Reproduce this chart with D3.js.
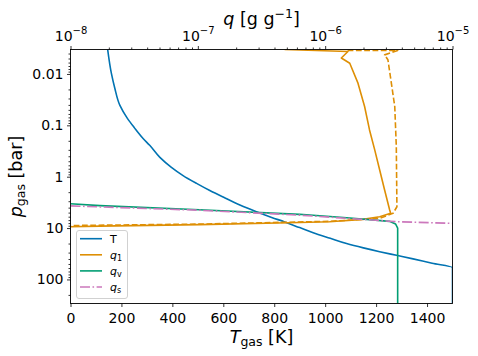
<!DOCTYPE html>
<html lang="en">
<head>
  <meta charset="UTF-8">
  <title>Gas profile</title>
  <script src="https://d3js.org/d3.v7.min.js"></script>
  <style>
    body { margin: 0; background: #fff; }
    text { font-family: "DejaVu Sans", sans-serif; fill: #000; }
  </style>
</head>
<body>
<script>
  // temperature profile [T in K, p in bar]
  const tempProfile = [
    [146, 0.00334], [161, 0.01], [174, 0.019], [194, 0.041], [224, 0.074],
    [250, 0.11], [285, 0.18], [311, 0.245], [351, 0.42], [395, 0.65],
    [442, 0.95], [495, 1.35], [547, 1.86], [605, 2.57], [665, 3.55],
    [730, 4.8], [790, 6.2], [841, 7.6], [900, 9.8], [953, 12.3],
    [1020, 15.8], [1084, 20], [1150, 24.3], [1214, 28.8], [1280, 33.9],
    [1345, 39.8], [1420, 48.4], [1500, 58.9], [1500, 294]
  ];
  // q_1 [q in g/g, p in bar]
  const q1Solid = [
    [4.8e-7, 0.00335], [1.51e-6, 0.00366], [1.34e-6, 0.0049], [1.56e-6, 0.0062],
    [1.81e-6, 0.0151], [2.04e-6, 0.043], [2.23e-6, 0.123], [2.45e-6, 0.30],
    [2.68e-6, 0.74], [2.93e-6, 1.82], [3.21e-6, 4.45], [3.27e-6, 5.17],
    [2.68e-6, 6.0], [1.98e-6, 6.77], [1.08e-6, 7.54], [6.3e-7, 7.8],
    [1.03e-7, 8.55], [1.7e-8, 9.15], [1e-8, 9.4]
  ];
  // second q_1 run (dashed, no legend entry)
  const q1Dashed = [
    [1.5e-6, 0.0035], [3.71e-6, 0.0035], [2.93e-6, 0.00425], [3.11e-6, 0.0053],
    [3.31e-6, 0.015], [3.52e-6, 0.043], [3.62e-6, 0.26], [3.66e-6, 3.85],
    [3.41e-6, 5.17], [2.68e-6, 6.47], [1.08e-6, 7.4], [1.03e-7, 8.36],
    [1e-8, 8.93]
  ];
  // q_v
  const qvProfile = [
    [1e-8, 3.36], [1.7e-8, 3.65], [1.03e-7, 4.4], [6.3e-7, 5.4], [1.48e-6, 6.3],
    [3.2e-6, 7.4], [3.57e-6, 8.3], [3.71e-6, 10], [3.71e-6, 294]
  ];
  // q_s
  const qsProfile = [
    [1e-8, 3.7], [1.03e-7, 4.5], [6.3e-7, 5.6], [3.6e-6, 7.5], [1e-5, 8.1]
  ];

  const tTicks = [0, 200, 400, 600, 800, 1000, 1200, 1400];
  const pTicks = [0.01, 0.1, 1, 10, 100];
  const pTickLabels = ["0.01", "0.1", "1", "10", "100"];
  const qTicks = [1e-8, 1e-7, 1e-6, 1e-5];
  const qTickExp = ["\u22128", "\u22127", "\u22126", "\u22125"];

  const legendItems = [
    { name: "T", sub: null, color: "#0173b2", dash: null },
    { name: "q", sub: "1", color: "#de8f05", dash: null },
    { name: "q", sub: "v", color: "#029e73", dash: null },
    { name: "q", sub: "s", color: "#cc78bc", dash: "10,2.5,1.6,2.5" }
  ];

  const W = 478, H = 356;
  const L = 70.5, R = 452.5, T = 49.5, B = 303.5;

  const svg = d3.select("body").append("svg").attr("width", W).attr("height", H);

  const x = d3.scaleLinear([0, 1500], [L, R]);
  const xq = d3.scaleLog([1e-8, 1e-5], [L, R]);
  const y = d3.scaleLog([0.00334, 294], [T, B]);

  svg.append("clipPath").attr("id", "clip")
    .append("rect").attr("x", L).attr("y", T).attr("width", R - L).attr("height", B - T);

  const plot = svg.append("g").attr("clip-path", "url(#clip)");

  const lineT = d3.line().x(d => x(d[0])).y(d => y(d[1])).curve(d3.curveMonotoneY);
  const lineQ = d3.line().x(d => xq(d[0])).y(d => y(d[1]));

  function drawLine (data, gen, color, dash) {
    plot.append("path").datum(data)
      .attr("d", gen)
      .attr("fill", "none")
      .attr("stroke", color)
      .attr("stroke-width", 1.6)
      .attr("stroke-linejoin", "round")
      .attr("stroke-dasharray", dash);
  }

  drawLine(tempProfile, lineT, "#0173b2", null);
  drawLine(q1Solid, lineQ, "#de8f05", null);
  drawLine(q1Dashed, lineQ, "#de8f05", "5.8,2.5");
  drawLine(qvProfile, lineQ, "#029e73", null);
  drawLine(qsProfile, lineQ, "#cc78bc", "10,2.5,1.6,2.5");

  // minor ticks for log axes
  function minors (lo, hi) {
    const out = [];
    for (let e = -9; e <= 3; e++) {
      for (let m = 2; m <= 9; m++) {
        const v = m * Math.pow(10, e);
        if (v >= lo && v <= hi) out.push(v);
      }
    }
    return out;
  }

  function styleAxis (g) {
    g.select(".domain").remove();
    g.selectAll("line").attr("stroke", "#000").attr("stroke-width", 0.8);
    g.selectAll("text").attr("font-size", 14).attr("fill", "#000");
  }

  // bottom axis
  svg.append("g").attr("transform", `translate(0,${B})`)
    .call(d3.axisBottom(x).tickValues(tTicks).tickFormat(d3.format("d")).tickSize(3.5).tickPadding(6))
    .call(styleAxis);

  // left axis
  svg.append("g").attr("transform", `translate(${L},0)`)
    .call(d3.axisLeft(y).tickValues(pTicks).tickFormat((d, i) => pTickLabels[i]).tickSize(3.5).tickPadding(3.5))
    .call(styleAxis);
  svg.append("g").attr("transform", `translate(${L},0)`)
    .call(d3.axisLeft(y).tickValues(minors(0.00334, 294)).tickFormat("").tickSize(2))
    .call(styleAxis);

  // top axis
  const topAxis = svg.append("g").attr("transform", `translate(0,${T})`)
    .call(d3.axisTop(xq).tickValues(qTicks).tickFormat("").tickSize(3.5).tickPadding(3.5))
    .call(styleAxis);
  topAxis.selectAll(".tick text").each(function (d, i) {
    const t = d3.select(this).text(null).attr("dy", null).attr("y", -8.8);
    t.append("tspan").text("10");
    t.append("tspan").attr("font-size", 10).attr("dy", -6.7).text(qTickExp[i]);
  });
  svg.append("g").attr("transform", `translate(0,${T})`)
    .call(d3.axisTop(xq).tickValues(minors(1e-8, 1e-5)).tickFormat("").tickSize(2))
    .call(styleAxis);

  // frame
  svg.append("rect").attr("x", L).attr("y", T).attr("width", R - L).attr("height", B - T)
    .attr("fill", "none").attr("stroke", "#000").attr("stroke-width", 0.9);

  // axis labels
  const xl = svg.append("text").attr("x", (L + R) / 2).attr("y", 342.5)
    .attr("text-anchor", "middle").attr("font-size", 17.5);
  xl.append("tspan").attr("font-style", "italic").text("T");
  xl.append("tspan").attr("font-size", 12.5).attr("dy", 3).text("gas");
  xl.append("tspan").attr("dy", -3).text(" [K]");

  const yl = svg.append("text")
    .attr("transform", `translate(22,${(T + B) / 2}) rotate(-90)`)
    .attr("text-anchor", "middle").attr("font-size", 17.5);
  yl.append("tspan").attr("font-style", "italic").text("p");
  yl.append("tspan").attr("font-size", 12.5).attr("dy", 3).text("gas");
  yl.append("tspan").attr("dy", -3).text(" [bar]");

  const ql = svg.append("text").attr("x", (L + R) / 2).attr("y", 24.5)
    .attr("text-anchor", "middle").attr("font-size", 17.5);
  ql.append("tspan").attr("font-style", "italic").text("q");
  ql.append("tspan").text(" [g g");
  ql.append("tspan").attr("font-size", 12.5).attr("dy", -7).text("\u22121");
  ql.append("tspan").attr("dy", 7).text("]");

  // legend
  const lg = svg.append("g");
  lg.append("rect").attr("x", 76.5).attr("y", 230.5).attr("width", 51).attr("height", 68)
    .attr("rx", 2.5).attr("fill", "#fff").attr("fill-opacity", 0.8)
    .attr("stroke", "#cccccc").attr("stroke-width", 0.9);
  const rowY = d3.scaleLinear([0, 3], [238.7, 287]);
  legendItems.forEach((d, i) => {
    const yy = rowY(i);
    lg.append("line").attr("x1", 80).attr("x2", 102).attr("y1", yy).attr("y2", yy)
      .attr("stroke", d.color).attr("stroke-width", 1.6).attr("stroke-dasharray", d.dash);
    const t = lg.append("text").attr("x", 110).attr("y", yy + 4).attr("font-size", 11);
    t.append("tspan").attr("font-style", d.sub ? "italic" : null).text(d.name);
    if (d.sub) t.append("tspan").attr("font-size", 8).attr("dy", 2).text(d.sub);
  });
</script>
</body>
</html>
